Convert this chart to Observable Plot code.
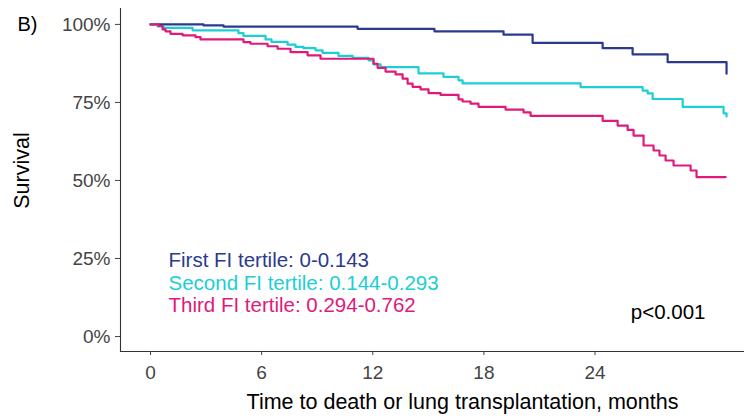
<!DOCTYPE html>
<html><head><meta charset="utf-8">
<script src="https://cdn.jsdelivr.net/npm/d3@7"></script>
<script src="https://cdn.jsdelivr.net/npm/@observablehq/plot@0.6"></script>
<style>body{margin:0;background:#fff}</style>
</head><body><div id="chart"></div>
<script>
// Kaplan–Meier curves (time in months, survival proportion)
const seriesNames = ["First", "Second", "Third"];
const firstTime = [0, 2.86, 3.94, 11.18, 15.33, 19.06, 20.63, 24.41, 26.03, 27.92, 31.1];
const firstSurv = [1, 0.997, 0.993, 0.986, 0.978, 0.967, 0.941, 0.924, 0.904, 0.879, 0.842];
const secondTime = [0, 0.38, 0.70, 2.27, 4.75, 5.02, 6.21, 6.53, 7.40, 7.83, 8.26, 8.91, 9.29, 10.15, 10.91, 11.77, 12.04, 12.42, 14.47, 15.82, 16.63, 16.85, 23.22, 26.57, 26.84, 27.11, 28.73, 30.94, 31.1];
const secondSurv = [1, 0.994, 0.989, 0.981, 0.972, 0.963, 0.952, 0.944, 0.935, 0.928, 0.924, 0.917, 0.909, 0.899, 0.893, 0.885, 0.872, 0.863, 0.843, 0.832, 0.821, 0.811, 0.799, 0.788, 0.779, 0.761, 0.736, 0.715, 0.705];
const thirdTime = [0, 0.43, 0.65, 0.81, 1.08, 1.73, 2.43, 2.70, 5.02, 5.40, 6.32, 6.86, 7.56, 8.48, 9.18, 12.04, 12.26, 12.69, 13.23, 13.61, 13.88, 14.15, 14.58, 15.01, 15.66, 16.63, 16.85, 17.28, 17.71, 19.17, 20.14, 20.52, 24.41, 25.22, 25.76, 26.08, 26.62, 27.16, 27.48, 27.81, 28.24, 29.16, 29.48, 31.05];
const thirdSurv = [1, 0.995, 0.984, 0.978, 0.970, 0.965, 0.959, 0.952, 0.943, 0.938, 0.930, 0.922, 0.911, 0.901, 0.890, 0.874, 0.861, 0.849, 0.840, 0.826, 0.810, 0.800, 0.792, 0.780, 0.774, 0.760, 0.753, 0.746, 0.736, 0.727, 0.718, 0.707, 0.691, 0.676, 0.662, 0.644, 0.612, 0.596, 0.580, 0.564, 0.548, 0.532, 0.511, 0.511];

const xTicks = [0, 6, 12, 18, 24];
const yTicks = [0, 0.25, 0.5, 0.75, 1];
const yTickLabels = ["0%", "25%", "50%", "75%", "100%"];
const legendLabels = ["First FI tertile: 0-0.143", "Second FI tertile: 0.144-0.293", "Third FI tertile: 0.294-0.762"];
const seriesColors = ["#2B3A8E", "#1BCFD3", "#DF1A7B"];
const pValueLabel = "p<0.001";
const panelLabel = "B)";
const yTitle = "Survival";
const xTitle = "Time to death or lung transplantation, months";

const times = [firstTime, secondTime, thirdTime];
const survs = [firstSurv, secondSurv, thirdSurv];
const data = [];
seriesNames.forEach((name, i) => {
  times[i].forEach((t, j) => data.push({series: name, t, s: survs[i][j]}));
});

const font = "'Liberation Sans', Arial, Helvetica, sans-serif";
const legendMarks = legendLabels.map((lab, i) =>
  Plot.text([lab], {text: d => d, frameAnchor: "top-left", dx: 48, dy: 252 + i * 22.5,
    textAnchor: "start", lineAnchor: "middle", fontSize: 20.5, fill: seriesColors[i]}));

const chart = Plot.plot({
  width: 744, height: 419,
  marginLeft: 120, marginRight: 0, marginTop: 8, marginBottom: 68,
  style: {fontFamily: font, background: "#fff", color: "#000"},
  x: {domain: [-1.62, 32.07]},
  y: {domain: [-0.048, 1.051]},
  color: {domain: seriesNames, range: seriesColors},
  marks: [
    Plot.frame({anchor: "left", stroke: "#333", strokeWidth: 1.1}),
    Plot.frame({anchor: "bottom", stroke: "#333", strokeWidth: 1.1}),
    Plot.axisX({ticks: xTicks, tickSize: 4, tickPadding: 10, fontSize: 19, color: "#444", label: null}),
    Plot.axisY({ticks: yTicks, tickFormat: d => yTickLabels[yTicks.indexOf(d)], tickSize: 5, tickPadding: 5, fontSize: 19, color: "#444", label: null}),
    Plot.line(data, {x: "t", y: "s", z: "series", stroke: "series", curve: "step-after", strokeWidth: 2.2}),
    ...legendMarks,
    Plot.text([pValueLabel], {text: d => d, frameAnchor: "top-left", dx: 585, dy: 304, textAnchor: "end", lineAnchor: "middle", fontSize: 20.5, fill: "#000"}),
    Plot.text([panelLabel], {text: d => d, frameAnchor: "top-left", dx: -103, dy: 16, textAnchor: "start", lineAnchor: "middle", fontSize: 20, fill: "#000"}),
    Plot.text([yTitle], {text: d => d, frameAnchor: "top-left", dx: -98, dy: 162, rotate: -90, textAnchor: "middle", lineAnchor: "middle", fontSize: 21.5, fill: "#000"}),
    Plot.text([xTitle], {text: d => d, frameAnchor: "top-left", dx: 342, dy: 394, textAnchor: "middle", lineAnchor: "middle", fontSize: 21.5, fill: "#000"})
  ]
});
document.getElementById("chart").appendChild(chart);
</script>
</body></html>
